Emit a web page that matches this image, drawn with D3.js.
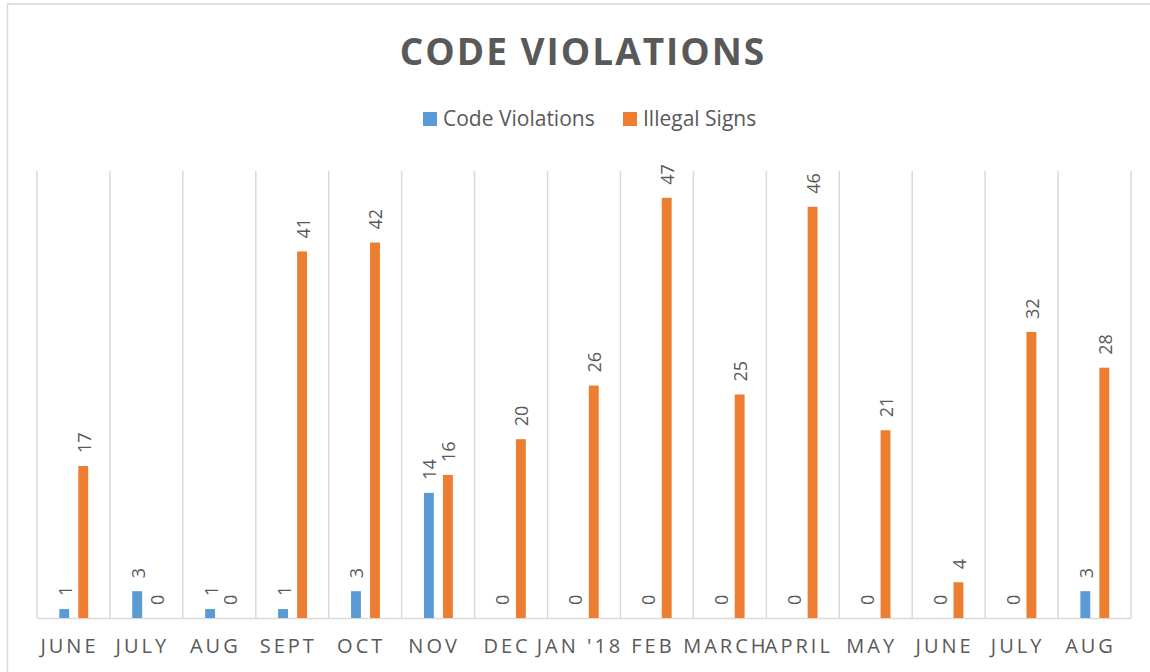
<!DOCTYPE html>
<html>
<head>
<meta charset="utf-8">
<script src="https://cdn.jsdelivr.net/npm/d3@7"></script>
<style>
  body { margin: 0; background: #fff; }
  text { font-family: "Open Sans", sans-serif; fill: #595959; }
</style>
</head>
<body>
<svg width="1150" height="672"></svg>
<script>
var months = ["JUNE", "JULY", "AUG", "SEPT", "OCT", "NOV", "DEC", "JAN '18", "FEB", "MARCH", "APRIL", "MAY", "JUNE", "JULY", "AUG"];
var codeViolations = [1, 3, 1, 1, 3, 14, 0, 0, 0, 0, 0, 0, 0, 0, 3];
var illegalSigns = [17, 0, 0, 41, 42, 16, 20, 26, 47, 25, 46, 21, 4, 32, 28];
var seriesNames = ["Code Violations", "Illegal Signs"];
var seriesColors = ["#5b9bd5", "#ed7d31"];

var svg = d3.select("svg"),
    width = +svg.attr("width"),
    height = +svg.attr("height");

// chart frame
svg.append("rect")
    .attr("x", 7.5).attr("y", 4)
    .attr("width", 1160).attr("height", 700)
    .attr("fill", "none")
    .attr("stroke", "#d9d9d9")
    .attr("stroke-width", 1.5);

var plotLeft = 37, plotRight = 1131, plotTop = 171, plotBottom = 618;

var idx = months.map(function(d, i) { return i; });

var x0 = d3.scaleBand()
    .domain(idx)
    .range([plotLeft, plotRight]);

var x1 = d3.scaleBand()
    .domain(seriesNames)
    .range([22.3, 51.2])
    .paddingInner(0.48);

var y = d3.scaleLinear()
    .domain([0, 50])
    .range([plotBottom, plotTop]);

// vertical gridlines at category boundaries
var bounds = idx.map(function(i) { return x0(i); }).concat([plotRight]);
svg.append("g")
  .selectAll("line")
  .data(bounds)
  .enter().append("line")
    .attr("x1", function(d) { return d; })
    .attr("x2", function(d) { return d; })
    .attr("y1", plotTop)
    .attr("y2", plotBottom)
    .attr("stroke", "#d9d9d9")
    .attr("stroke-width", 1.5);

// category axis
var xAxis = svg.append("g")
    .attr("transform", "translate(0," + plotBottom + ")")
    .call(d3.axisBottom(x0).tickSize(0).tickPadding(0).tickFormat(function(i) { return months[i]; }));
xAxis.select(".domain").attr("stroke", "#d9d9d9").attr("stroke-width", 1.5);
xAxis.selectAll("text")
    .attr("y", 35)
    .attr("dy", 0)
    .attr("dx", -4)
    .style("font-size", "20px")
    .style("letter-spacing", "3px")
    .style("font-family", "'Open Sans', sans-serif")
    .style("fill", "#595959");

// bars
var rows = idx.map(function(i) {
  return { i: i, values: [codeViolations[i], illegalSigns[i]] };
});

var groups = svg.append("g")
  .selectAll("g")
  .data(rows)
  .enter().append("g")
    .attr("transform", function(d) { return "translate(" + x0(d.i) + ",0)"; });

var cells = groups.selectAll("g")
  .data(function(d) {
    return d.values.map(function(v, k) { return { key: seriesNames[k], k: k, value: v }; });
  })
  .enter().append("g");

cells.append("rect")
    .attr("x", function(d) { return x1(d.key); })
    .attr("y", function(d) { return y(d.value); })
    .attr("width", x1.bandwidth())
    .attr("height", function(d) { return plotBottom - y(d.value); })
    .attr("fill", function(d) { return seriesColors[d.k]; });

cells.append("text")
    .attr("transform", function(d) {
      return "translate(" + (x1(d.key) + x1.bandwidth() / 2 + 1) + "," + (y(d.value) - 13) + ") rotate(-90)";
    })
    .attr("dy", "0.36em")
    .style("font-size", "18px")
    .text(function(d) { return d.value; });

// title
svg.append("text")
    .attr("x", 583)
    .attr("y", 65)
    .attr("text-anchor", "middle")
    .style("font-size", "37px")
    .style("font-weight", "bold")
    .style("letter-spacing", "2px")
    .text("CODE VIOLATIONS");

// legend
var legendX = [423, 623];
var legend = svg.append("g")
  .selectAll("g")
  .data(seriesNames)
  .enter().append("g")
    .attr("transform", function(d, i) { return "translate(" + legendX[i] + ",112)"; });

legend.append("rect")
    .attr("width", 14)
    .attr("height", 14)
    .attr("fill", function(d, i) { return seriesColors[i]; });

legend.append("text")
    .attr("x", 20)
    .attr("y", 14)
    .style("font-size", "21px")
    .text(function(d) { return d; });
</script>
</body>
</html>
